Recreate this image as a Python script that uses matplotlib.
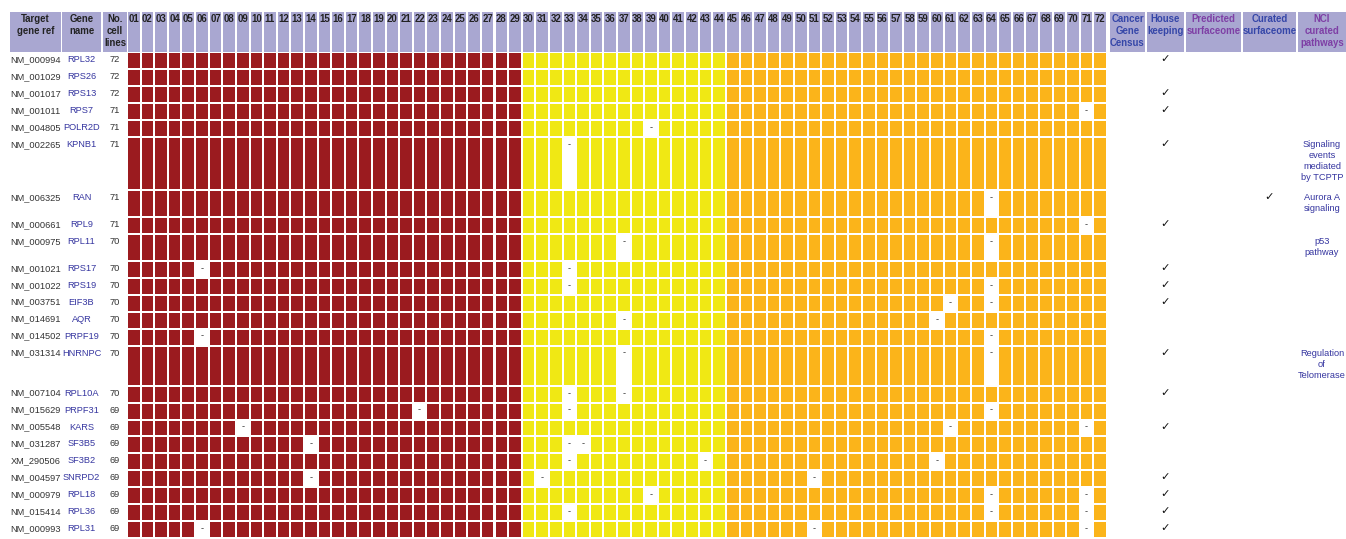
import matplotlib
matplotlib.use('Agg')
import matplotlib.pyplot as plt
from matplotlib.patches import Rectangle

plt.rcParams['font.family'] = ['Liberation Sans', 'DejaVu Sans']

# =============================================================================
#     data
# =============================================================================

gene_refs = ['NM_000994', 'NM_001029', 'NM_001017', 'NM_001011', 'NM_004805',
             'NM_002265', 'NM_006325', 'NM_000661', 'NM_000975', 'NM_001021',
             'NM_001022', 'NM_003751', 'NM_014691', 'NM_014502', 'NM_031314',
             'NM_007104', 'NM_015629', 'NM_005548', 'NM_031287', 'XM_290506',
             'NM_004597', 'NM_000979', 'NM_015414', 'NM_000993']
gene_names = ['RPL32', 'RPS26', 'RPS13', 'RPS7', 'POLR2D', 'KPNB1', 'RAN', 'RPL9',
              'RPL11', 'RPS17', 'RPS19', 'EIF3B', 'AQR', 'PRPF19', 'HNRNPC',
              'RPL10A', 'PRPF31', 'KARS', 'SF3B5', 'SF3B2', 'SNRPD2', 'RPL18',
              'RPL36', 'RPL31']
n_cell_lines = [72, 72, 72, 71, 71, 71, 71, 71, 70, 70, 70, 70, 70, 70, 70, 70,
                69, 69, 69, 69, 69, 69, 69, 69]
# cell lines (1..72) where the gene was not a hit
missing = [[], [], [], [71], [39], [33], [64], [71], [37, 64], [6, 33],
           [33, 64], [61, 64], [37, 60], [6, 64], [37, 64], [33, 37],
           [22, 33, 64], [9, 61, 71], [14, 33, 34], [33, 43, 60],
           [14, 31, 51], [39, 64, 71], [33, 64, 71], [6, 51, 71]]
cancer_census = [0] * 24
house_keeping = [1, 0, 1, 1, 0, 1, 0, 1, 0, 1, 1, 1, 0, 0, 1, 1, 0, 1, 0, 0,
                 1, 1, 1, 1]
predicted_surf = [0] * 24
curated_surf = [0, 0, 0, 0, 0, 0, 1, 0, 0, 0, 0, 0, 0, 0, 0, 0, 0, 0, 0, 0,
                0, 0, 0, 0]
pathways = ['', '', '', '', '', 'Signaling\nevents\nmediated\nby TCPTP',
            'Aurora A\nsignaling', '', 'p53\npathway', '', '', '', '', '',
            'Regulation\nof\nTelomerase', '', '', '', '', '', '', '', '', '']
n_lines = 72
group_ends = [29, 44, 72]   # last cell line of each tissue group
group_colors = ['#9B1B1F', '#F0E814', '#FBB41A']

# =============================================================================
#     layout (pixels)
# =============================================================================

W, H = 1346, 539
head_top, head_bot = 12, 52
x0, x1 = 128, 1108
pitch = (x1 - x0) / n_lines
row_pitch = 16.95
gap = 2
left_cols = [(10, 61, 'Target\ngene ref'), (62, 101, 'Gene\nname'), (103, 127, 'No.\ncell\nlines')]
right_cols = [(1110, 1145, 'Cancer\nGene\nCensus', '#3546A8'),
              (1147, 1184, 'House\nkeeping', '#3546A8'),
              (1186, 1241, 'Predicted\nsurfaceome', '#7E3FA5'),
              (1243, 1296, 'Curated\nsurfaceome', '#3546A8'),
              (1298, 1346, 'NCI\ncurated\npathways', '#7E3FA5')]
head_color = '#A9A7D1'
fs = 6.7
hfs = 6.9

heights = []
for p in pathways:
    n = len(p.split('\n')) if p else 0
    heights.append(max(row_pitch, 13.2 * n + 0.5))
tops = [head_bot + 1]
for h in heights[:-1]:
    tops.append(tops[-1] + h)

fig = plt.figure(figsize=(W / 100, H / 100), dpi=100)
ax = fig.add_axes([0, 0, 1, 1])
ax.set_xlim(0, W)
ax.set_ylim(H, 0)
ax.axis('off')

# header
for a, b, label in left_cols:
    ax.add_patch(Rectangle((a, head_top), b - a, head_bot - head_top, color=head_color, lw=0))
    ax.text((a + b) / 2, head_top + 1.5, label, ha='center', va='top', fontsize=hfs,
            fontweight='bold', color='#222222', linespacing=1.3)
for c in range(n_lines):
    xa = x0 + c * pitch
    ax.add_patch(Rectangle((xa, head_top), pitch - gap, head_bot - head_top, color=head_color, lw=0))
    ax.text(xa + (pitch - gap) / 2, head_top + 1.5, '%02d' % (c + 1), ha='center', va='top',
            fontsize=hfs, fontweight='bold', color='#222222')
for a, b, label, col in right_cols:
    ax.add_patch(Rectangle((a, head_top), b - a, head_bot - head_top, color=head_color, lw=0))
    ax.text((a + b) / 2, head_top + 1.5, label, ha='center', va='top', fontsize=hfs,
            fontweight='bold', color=col, linespacing=1.3)

# body
flags = [cancer_census, house_keeping, predicted_surf, curated_surf]
for r in range(len(gene_names)):
    top, h = tops[r], heights[r]
    ty = top + 2
    ax.text((left_cols[0][0] + left_cols[0][1]) / 2, ty, gene_refs[r], ha='center', va='top',
            fontsize=fs, color='#333333')
    ax.text((left_cols[1][0] + left_cols[1][1]) / 2, ty, gene_names[r], ha='center', va='top',
            fontsize=fs, color='#3636A0')
    ax.text((left_cols[2][0] + left_cols[2][1]) / 2, ty, str(n_cell_lines[r]), ha='center',
            va='top', fontsize=fs, color='#333333')
    for c in range(1, n_lines + 1):
        xa = x0 + (c - 1) * pitch
        if c in missing[r]:
            ax.text(xa + (pitch - gap) / 2, ty, '-', ha='center', va='top', fontsize=fs,
                    color='#333333')
            continue
        g = next(i for i, e in enumerate(group_ends) if c <= e)
        ax.add_patch(Rectangle((xa, top), pitch - gap, h - gap, color=group_colors[g], lw=0))
    for k, f in enumerate(flags):
        if f[r]:
            a, b = right_cols[k][0], right_cols[k][1]
            ax.text((a + b) / 2, ty - 1, '\u2713', ha='center', va='top', fontsize=fs + 1.5,
                    fontweight='bold', color='#111111', family='DejaVu Sans')
    if pathways[r]:
        a, b = right_cols[4][0], right_cols[4][1]
        ax.text((a + b) / 2, ty, pathways[r], ha='center', va='top', fontsize=fs,
                color='#3636A0', linespacing=1.3)

plt.savefig('out.png', dpi=100)
